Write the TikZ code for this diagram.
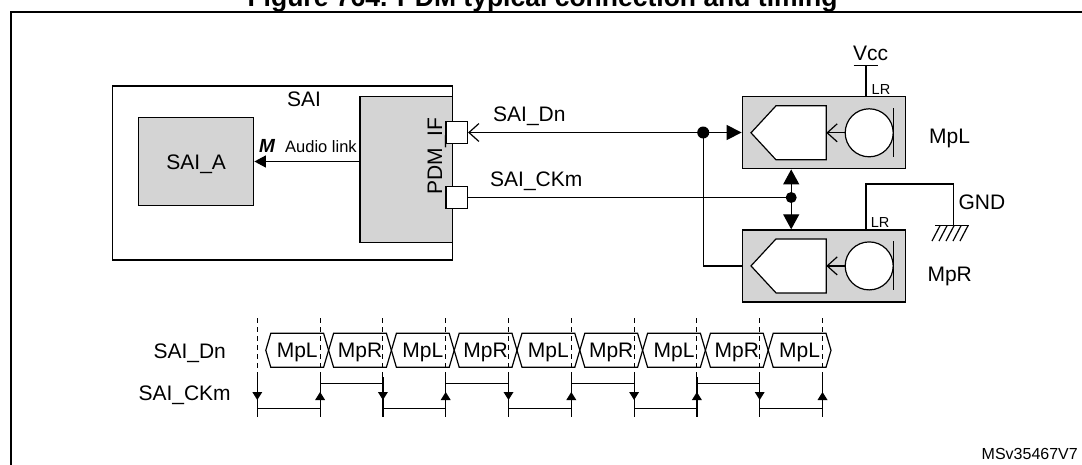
\documentclass[tikz,border=0pt]{standalone}
\usepackage{fontspec}
\setmainfont{Liberation Sans}
\usetikzlibrary{arrows.meta}
\definecolor{boxgray}{RGB}{212,212,212}
\tikzset{
  lw/.style={line width=1.2pt},
  graybox/.style={draw, line width=1.2pt, fill=boxgray, inner sep=0pt},
  whitebox/.style={draw, line width=1.2pt, fill=white, inner sep=0pt},
  lbl/.style={inner sep=0pt, font=\fontsize{21}{24}\selectfont},
  lblsmall/.style={inner sep=0pt, font=\fontsize{14.5}{17}\selectfont},
  openarr/.style={-{Straight Barb[length=10pt,width=18pt]}},
  dotnode/.style={circle, fill, inner sep=0pt},
  tdash/.style={line width=1.1pt, dash pattern=on 5pt off 4pt},
  mic/.pic={
    \coordinate (-pe) at (2.4,0);
    \draw[lw, fill=white] (-72.9,0) -- (-47.9,-27) -- (2.4,-27) -- (2.4,27) -- (-47.9,27) -- cycle;
    \node[circle, draw, lw, fill=white, minimum size=48pt, inner sep=0pt] (-circ) at (45.3,0) {};
    \draw[lw] (69.3,-24.5) -- (69.3,24.5);
    \draw[lw, openarr] (-circ.west) -- (-pe);
  }
}
\begin{document}
\begin{tikzpicture}[x=1pt,y=-1pt]
\useasboundingbox (0,0) rectangle (1082,464);
% frame
\draw[line width=2.2pt] (11,520) -- (11,12) -- (1130,12);
\node[anchor=base, inner sep=0pt, font=\bfseries\fontsize{26.5}{30}\selectfont] (title) at (542.5,6) {Figure 764. PDM typical connection and timing};

% SAI block
\node[whitebox, fill=none, minimum width=340.5pt, minimum height=174pt] (sai) at (282.55,173) {};
\node[lbl, anchor=base] (saitxt) at (304,106.7) {SAI};
\node[graybox, minimum width=115pt, minimum height=88.5pt] (saia) at (196.3,161.5) {};
\node[lbl, anchor=base] (saiatxt) at (196.2,169) {SAI\_A};
\node[graybox, minimum width=92.9pt, minimum height=146.5pt] (pdm) at (406.35,169.5) {};
\node[lbl, anchor=base, rotate=90] (pdmtxt) at (442.2,156) {PDM\_IF};
\node[whitebox, minimum size=21.5pt] (sq1) at (456.7,132.5) {};
\node[whitebox, minimum size=21.5pt] (sq2) at (456.7,197.5) {};
\draw[lw, -{Triangle[length=11.5pt,width=12pt]}] (pdm.west |- saia.east) -- (saia.east);
\node[inner sep=0pt, anchor=base west, font=\bfseries\itshape\fontsize{19}{22}\selectfont] (mtxt) at (259,152.3) {M};
\node[inner sep=0pt, anchor=base west, font=\fontsize{16.5}{19}\selectfont] (audiotxt) at (285,152.3) {Audio link};

% signal labels
\node[lbl, anchor=base west] (dntxt) at (493,121.5) {SAI\_Dn};
\node[lbl, anchor=base west] (cktxt) at (490,186.7) {SAI\_CKm};

% microphones
\node[graybox, minimum width=163.4pt, minimum height=72pt] (mpl) at (823.9,132.8) {};
\node[graybox, minimum width=163.4pt, minimum height=72pt] (mpr) at (823.9,265.9) {};
\pic (L) at (mpl.center) {mic};
\pic (R) at (mpr.center) {mic};
\node[lbl, anchor=base west] (mpltxt) at (929,143) {MpL};
\node[lbl, anchor=base west] (mprtxt) at (927.3,281) {MpR};

% data line
\node[dotnode, minimum size=12pt] (d1) at (703.2,132.5) {};
\draw[lw, {Straight Barb[length=10pt,width=18pt]}-{Triangle[length=15pt,width=15pt]}] (sq1.east) -- (mpl.west |- sq1.east);
\draw[lw] (d1.center) |- (mpr.west);

% clock line
\node[dotnode, minimum size=11pt] (d2) at (791.2,197.5) {};
\draw[lw] (sq2.east) -- (d2.center);
\draw[lw, -{Triangle[length=15pt,width=16pt]}] (d2.center) -- (d2 |- mpl.south);
\draw[lw, -{Triangle[length=15pt,width=16pt]}] (d2.center) -- (d2 |- mpr.north);

% Vcc
\coordinate (vcc) at (866,65.5);
\draw[lw] (mpl.north -| vcc) -- (vcc);
\draw[lw] ([xshift=-12.3pt]vcc) -- ([xshift=12.3pt]vcc);
\node[lbl, anchor=base] (vcctxt) at (870.6,60) {Vcc};
\node[lblsmall, anchor=base west] (lr1) at (871.5,94) {LR};

% GND
\coordinate (gnd) at (953.3,225.7);
\draw[lw] (mpr.north -| vcc) -- (866,184) -| (gnd);
\draw[lw] (935,225.7) -- (968.5,225.7);
\foreach \hx in {940,947,954,961,968}{
  \draw[lw] (\hx,225.7) -- (\hx-8,241);
}
\node[lbl, anchor=base west] (gndtxt) at (958.3,209) {GND};
\node[lblsmall, anchor=base west] (lr2) at (870.7,227) {LR};

% timing diagram
\node[lbl, anchor=base west] (tdn) at (153.3,358.3) {SAI\_Dn};
\node[lbl, anchor=base west] (tck) at (138.3,400.7) {SAI\_CKm};
\foreach \k in {0,...,9}{
  \pgfmathsetmacro\xx{257.3+62.8*\k}
  \draw[tdash] (\xx,318) -- (\xx,377);
  \draw[lw] (\xx,377) -- (\xx,417);
}
\foreach \k [count=\i from 0] in {MpL,MpR,MpL,MpR,MpL,MpR,MpL,MpR,MpL}{
  \pgfmathsetmacro\ta{265.8+62.8*\i}
  \pgfmathsetmacro\tb{265.8+62.8*(\i+1)}
  \pgfmathsetmacro\tm{(\ta+\tb)/2}
  \draw[lw] (\ta,350.3) -- (\ta+5,333.3) -- (\tb-5,333.3) -- (\tb,350.3) -- (\tb-5,367.3) -- (\ta+5,367.3) -- cycle;
  \node[lbl, anchor=base] (box\i) at (\tm,357.7) {\k};
}
\foreach \k in {0,...,8}{
  \pgfmathsetmacro\xa{257.3+62.8*\k}
  \pgfmathsetmacro\xb{257.3+62.8*(\k+1)}
  \pgfmathsetmacro\lev{isodd(\k) ? 383.3 : 408.3}
  \draw[lw] (\xa,\lev) -- (\xb,\lev);
}
\foreach \k in {0,...,9}{
  \pgfmathsetmacro\xx{257.3+62.8*\k}
  \ifodd\k
    \fill (\xx-5,400) -- (\xx+5,400) -- (\xx,392) -- cycle;
  \else
    \fill (\xx-5,392) -- (\xx+5,392) -- (\xx,400) -- cycle;
  \fi
}
\node[inner sep=0pt, anchor=base east, font=\fontsize{16}{19}\selectfont] (ref) at (1078,459.5) {MSv35467V7};
\end{tikzpicture}
\end{document}
